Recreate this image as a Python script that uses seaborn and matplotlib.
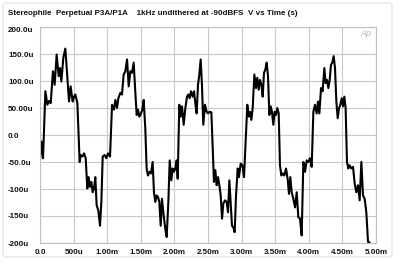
import matplotlib
matplotlib.use("Agg")
import matplotlib.pyplot as plt
import seaborn as sns
import pandas as pd
from matplotlib.patches import FancyBboxPatch

# ---- data (time in ms, voltage in microvolts) ----
t_ms = [0.0, 0.02, 0.045, 0.08, 0.11, 0.134, 0.159, 0.193, 0.218, 0.248, 0.278, 0.298,
        0.318, 0.347, 0.377, 0.407, 0.432, 0.456, 0.486, 0.506, 0.526, 0.556, 0.59, 0.605,
        0.63, 0.655, 0.68, 0.704, 0.724, 0.744, 0.764, 0.784, 0.804, 0.823, 0.843, 0.868,
        0.893, 0.913, 0.933, 0.962, 0.987, 1.012, 1.042, 1.072, 1.101, 1.121, 1.146, 1.166,
        1.196, 1.22, 1.245, 1.27, 1.295, 1.32, 1.344, 1.369, 1.394, 1.419, 1.439, 1.458,
        1.478, 1.503, 1.523, 1.543, 1.567, 1.587, 1.607, 1.632, 1.652, 1.676, 1.696, 1.716,
        1.736, 1.756, 1.776, 1.796, 1.815, 1.84, 1.865, 1.885, 1.91, 1.93, 1.954, 1.974,
        1.994, 2.014, 2.034, 2.049, 2.073, 2.093, 2.113, 2.138, 2.163, 2.188, 2.207, 2.227,
        2.247, 2.272, 2.292, 2.311, 2.331, 2.351, 2.371, 2.391, 2.41, 2.43, 2.455, 2.48,
        2.5, 2.525, 2.55, 2.589, 2.609, 2.629, 2.649, 2.669, 2.689, 2.709, 2.728, 2.753,
        2.778, 2.798, 2.818, 2.837, 2.857, 2.877, 2.897, 2.917, 2.942, 2.961, 2.986, 3.011,
        3.036, 3.085, 3.105, 3.125, 3.145, 3.165, 3.19, 3.214, 3.234, 3.254, 3.274, 3.294,
        3.314, 3.333, 3.353, 3.373, 3.393, 3.413, 3.433, 3.452, 3.472, 3.492, 3.512, 3.532,
        3.552, 3.571, 3.591, 3.611, 3.636, 3.661, 3.685, 3.705, 3.725, 3.745, 3.77, 3.795,
        3.82, 3.844, 3.869, 3.894, 3.919, 3.944, 3.969, 3.993, 4.018, 4.043, 4.068, 4.092,
        4.117, 4.137, 4.157, 4.182, 4.206, 4.231, 4.251, 4.271, 4.291, 4.311, 4.33, 4.35,
        4.37, 4.39, 4.41, 4.43, 4.45, 4.469, 4.489, 4.509, 4.529, 4.548, 4.568, 4.588,
        4.608, 4.633, 4.658, 4.683, 4.707, 4.732, 4.757, 4.782, 4.807, 4.831, 4.856, 4.881,
        4.906]
v_uV = [-47, -12, -43, 81, 56, 63, 59, 118, 93, 149, 109, 124,
        99, 143, 160, 106, 62, 90, 62, 71, 75, 59, -50, -37,
        -40, -34, -43, -99, -78, -96, -87, -106, -99, -78, -130, -140,
        -168, -124, -40, -37, -43, -34, -40, 56, 47, 65, 50, 68,
        78, 75, 112, 118, 140, 90, 118, 115, 134, 78, 37, 47,
        34, 40, 47, 65, 12, -62, -75, -68, -71, -50, -106, -124,
        -112, -115, -124, -168, -118, -149, -174, -189, -124, -47, -84, -62,
        -68, -62, -47, -81, 56, 34, 53, 19, 50, 71, 75, 68,
        81, 71, 81, 59, 40, 93, 112, 140, 93, 19, 56, 43,
        40, 43, 42, -87, -65, -93, -78, -93, -112, -155, -127, -121,
        -124, -143, -84, -124, -168, -171, -180, -112, -62, -78, -53, -56,
        -78, 56, 34, 43, 28, 50, 112, 87, 106, 84, 102, 93,
        71, 115, 121, 134, 109, 37, 53, 43, 19, 43, 37, 50,
        40, -56, -75, -71, -75, -62, -81, -109, -78, -106, -118, -134,
        -106, -152, -155, -186, -50, -68, -47, -50, -43, -59, 43, 56,
        40, 62, 40, 87, 81, 124, 96, 102, 87, 102, 130, 134,
        146, 124, 62, 31, 50, 56, 68, 53, 71, 50, -50, -62,
        -56, -62, -59, -90, -106, -93, -121, -50, -112, -118, -143, -198,
        -199]

x_ticks = [0, 0.5, 1.0, 1.5, 2.0, 2.5, 3.0, 3.5, 4.0, 4.5, 5.0]
x_tick_labels = ["0.0", "500u", "1.00m", "1.50m", "2.00m", "2.50m", "3.00m",
                 "3.50m", "4.00m", "4.50m", "5.00m"]
y_ticks = [200, 150, 100, 50, 0, -50, -100, -150, -200]
y_tick_labels = ["200.0u", "150.0u", "100.0u", "50.00u", "0.0", "-50.0u",
                 "-100u", "-150u", "-200u"]
title = "Stereophile  Perpetual P3A/P1A    1kHz undithered at -90dBFS  V vs Time (s)"

df = pd.DataFrame({"t": t_ms, "v": v_uV})

sns.set_theme(style="white")
plt.rcParams["font.family"] = ["Liberation Sans", "DejaVu Sans"]

fig = plt.figure(figsize=(4.0, 2.66), dpi=100)
ax = fig.add_axes([40 / 400, 1 - 243 / 266, 336 / 400, 216 / 266])

sns.lineplot(data=df, x="t", y="v", ax=ax, color="black", linewidth=1.5,
             estimator=None, sort=False)

ax.set_xlim(0, 5.0)
ax.set_ylim(-200, 200)
ax.set_xticks(x_ticks)
ax.set_xticklabels(x_tick_labels, fontsize=5.8, fontweight="bold", color="#111111")
ax.set_yticks(y_ticks)
ax.set_yticklabels(y_tick_labels, fontsize=5.8, fontweight="bold", color="#111111",
                   ha="left")
ax.tick_params(axis="y", length=0, pad=23)
ax.tick_params(axis="x", length=0, pad=4)
for lab in ax.get_yticklabels():
    if lab.get_text() == "200.0u":
        lab.set_va("top")
ax.set_xlabel("")
ax.set_ylabel("")
ax.grid(True, color="#c8c8c8", linewidth=0.8)
for s in ax.spines.values():
    s.set_color("#c0c0c0")
    s.set_linewidth(0.8)

fig.text(8 / 400, 1 - 14 / 266, title, fontsize=5.8, fontweight="bold",
         color="#111111", ha="left", va="center")
ax.text(366 / 400, 1 - 33 / 266, "Ap", transform=fig.transFigure, fontsize=6.5,
        fontstyle="italic", color="#bbbbbb", ha="center", va="center")

frame = FancyBboxPatch((3 / 400, 1 - 257 / 266), 389 / 400, 254 / 266,
                       boxstyle="round,pad=0,rounding_size=0.01",
                       transform=fig.transFigure, fill=False,
                       edgecolor="#e0e0e0", linewidth=0.8)
fig.patches.append(frame)

fig.savefig("out.png", dpi=100)
